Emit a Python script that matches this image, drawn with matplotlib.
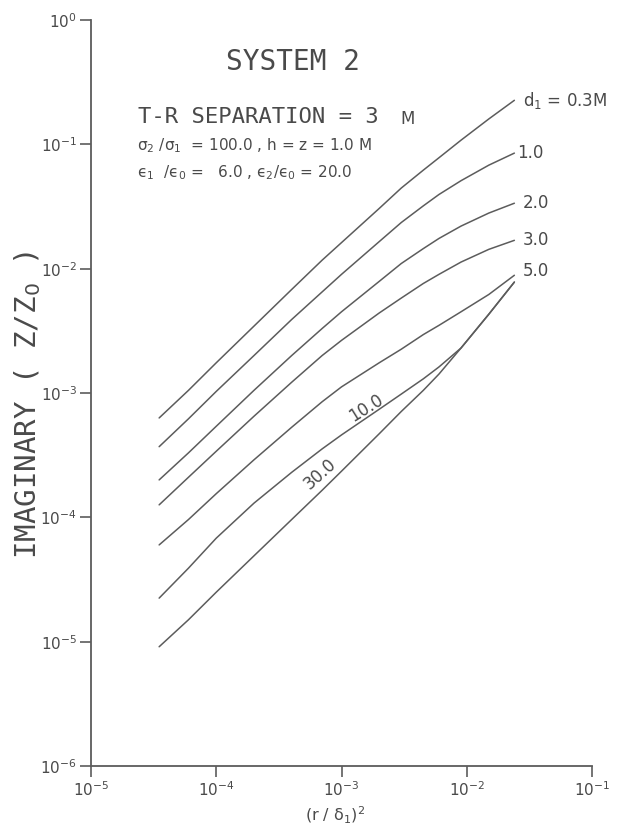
from matplotlib import pyplot as plt
from matplotlib.ticker import LogLocator, NullLocator

# (r/delta1)^2 sample points shared by all curves
x_ratio = [3.5e-5, 6e-5, 1e-4, 2e-4, 4e-4, 7e-4, 1e-3, 2e-3, 3e-3, 4.5e-3, 6e-3, 9e-3, 1.5e-2, 2.4e-2]

# imaginary part of Z/Z0 for each upper layer thickness d1
d_03 = [6.3e-4, 1.05e-3, 1.75e-3, 3.45e-3, 6.8e-3, 1.17e-2, 1.62e-2, 3.05e-2, 4.45e-2,
        6.2e-2, 7.8e-2, 0.108, 0.160, 0.226]
d_10 = [3.7e-4, 6.2e-4, 1.03e-3, 2.0e-3, 3.9e-3, 6.5e-3, 9.0e-3, 1.65e-2, 2.35e-2,
        3.2e-2, 3.95e-2, 0.051, 0.068, 0.085]
d_20 = [2.0e-4, 3.3e-4, 5.4e-4, 1.05e-3, 2.0e-3, 3.3e-3, 4.5e-3, 7.9e-3, 1.1e-2,
        1.45e-2, 1.75e-2, 2.2e-2, 2.8e-2, 3.36e-2]
d_30 = [1.26e-4, 2.1e-4, 3.4e-4, 6.5e-4, 1.22e-3, 2.0e-3, 2.65e-3, 4.4e-3, 5.8e-3,
        7.6e-3, 9.0e-3, 1.13e-2, 1.43e-2, 1.69e-2]
d_50 = [6.0e-5, 9.6e-5, 1.55e-4, 2.9e-4, 5.3e-4, 8.5e-4, 1.12e-3, 1.75e-3, 2.25e-3,
        2.95e-3, 3.5e-3, 4.5e-3, 6.2e-3, 8.85e-3]
d_100 = [2.24e-5, 3.9e-5, 6.8e-5, 1.3e-4, 2.3e-4, 3.55e-4, 4.6e-4, 7.4e-4, 9.8e-4,
         1.3e-3, 1.62e-3, 2.3e-3, 4.3e-3, 7.8e-3]
d_300 = [9.1e-6, 1.5e-5, 2.5e-5, 4.9e-5, 9.6e-5, 1.65e-4, 2.35e-4, 4.7e-4, 7.1e-4,
         1.05e-3, 1.42e-3, 2.3e-3, 4.3e-3, 7.8e-3]

end_labels = ['d$_\\mathrm{1}$ = 0.3M', '1.0', '2.0', '3.0', '5.0']
end_offsets = [(6, 0), (2, 0), (6, 0), (6, 0), (6, 3)]
inline_labels = ['10.0', '30.0']

INK = '#4a4a4a'
LINE = '#5c5c5c'
W, H = 625, 830


def fx(px):
  return px / W


def fy(py):
  return 1 - py / H


fig = plt.figure(figsize=(6.25, 8.3), dpi=100)
ax = fig.add_axes([fx(91), fy(766), (592 - 91) / W, (766 - 20) / H])

curves = [d_03, d_10, d_20, d_30, d_50, d_100, d_300]
for ys in curves:
  ax.plot(x_ratio, ys, '-', color=LINE, lw=1.1, solid_capstyle='round')

ax.set_xscale('log')
ax.set_yscale('log')
ax.set_xlim(1e-5, 1e-1)
ax.set_ylim(1e-6, 1e0)
ax.xaxis.set_major_locator(LogLocator(base=10, numticks=10))
ax.yaxis.set_major_locator(LogLocator(base=10, numticks=10))
ax.xaxis.set_minor_locator(NullLocator())
ax.yaxis.set_minor_locator(NullLocator())

for side in ['top', 'right']:
  ax.spines[side].set_visible(False)
for side in ['left', 'bottom']:
  ax.spines[side].set_color(LINE)
  ax.spines[side].set_linewidth(1.3)
ax.tick_params(axis='both', which='major', direction='out', length=8, width=1.2,
               color=LINE, labelcolor=INK, labelsize=11)
ax.tick_params(axis='y', pad=2)
ax.tick_params(axis='x', pad=2)

# labels at the right-hand end of the upper curves
for ys, lab, off in zip(curves[:5], end_labels, end_offsets):
  ax.annotate(lab, (x_ratio[-1], ys[-1]), xytext=off, textcoords='offset points',
              ha='left', va='center', fontsize=12, color=INK)

# labels written along the two lowest curves
ax.text(1.58e-3, 7.6e-4, inline_labels[0], rotation=32, ha='center', va='center',
        fontsize=12, color=INK, rotation_mode='anchor')
ax.text(6.8e-4, 2.25e-4, inline_labels[1], rotation=42, ha='center', va='center',
        fontsize=12, color=INK, rotation_mode='anchor')

mono = 'DejaVu Sans Mono'
fig.text(fx(293), fy(62), 'SYSTEM 2', family=mono, fontsize=20, color=INK,
         ha='center', va='center')
fig.text(fx(138), fy(117), 'T-R SEPARATION = 3', family=mono, fontsize=16, color=INK,
         ha='left', va='center')
fig.text(fx(400), fy(119), 'M', fontsize=12, color=INK, ha='left', va='center')
fig.text(fx(137), fy(146), 'σ$_\\mathrm{2}$ /σ$_\\mathrm{1}$  = 100.0 , h = z = 1.0 M',
         fontsize=11, color=INK, ha='left', va='center')
fig.text(fx(137), fy(173), 'ϵ$_\\mathrm{1}$  /ϵ$_\\mathrm{0}$ =   6.0 , ϵ$_\\mathrm{2}$/ϵ$_\\mathrm{0}$ = 20.0',
         fontsize=11, color=INK, ha='left', va='center')

fig.text(fx(28), fy(405), 'IMAGINARY ( Z/Z$_\\mathrm{0}$ )', family=mono, fontsize=21,
         color=INK, rotation=90, ha='center', va='center')
fig.text(fx(335), fy(826), '(r / δ$_\\mathrm{1}$)$^\\mathrm{2}$', fontsize=11.5, color=INK,
         ha='center', va='bottom')

plt.savefig('out.png', dpi=100)
